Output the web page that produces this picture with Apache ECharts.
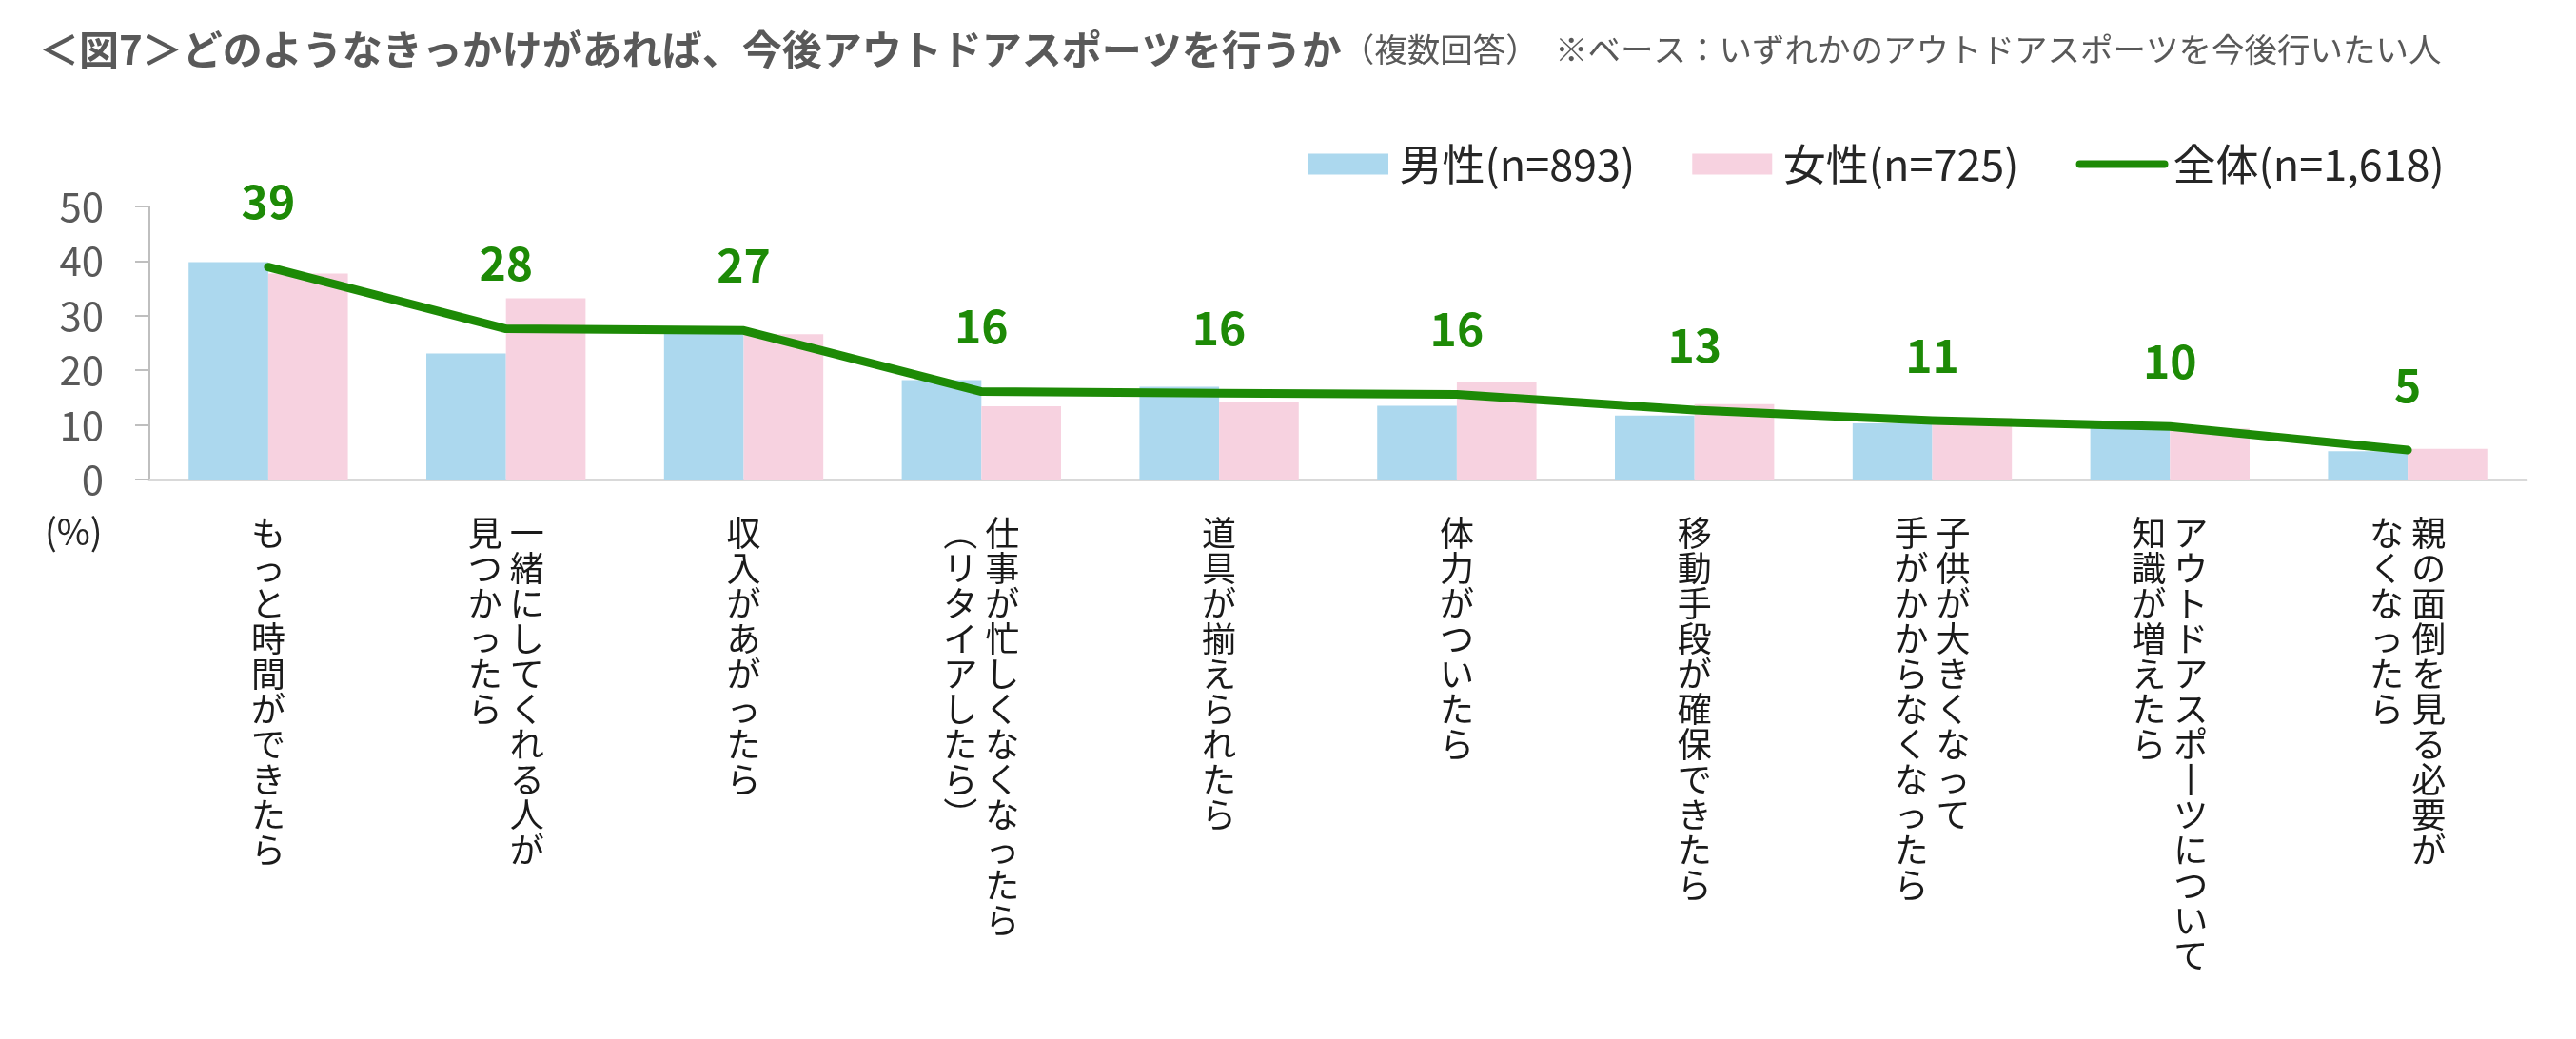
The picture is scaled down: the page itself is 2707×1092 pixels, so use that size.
<!DOCTYPE html>
<html><head><meta charset="utf-8">
<script src="https://cdn.jsdelivr.net/npm/echarts@6/dist/echarts.min.js"></script>
<style>html,body{margin:0;padding:0;background:#fff}#c{width:2707px;height:1092px}</style>
</head><body><div id="c"></div>
<script>
// Data (column breaks in labels marked with \n)
const categories = [
  'もっと時間ができたら',
  '一緒にしてくれる人が\n見つかったら',
  '収入があがったら',
  '仕事が忙しくなくなったら\n（リタイアしたら）',
  '道具が揃えられたら',
  '体力がついたら',
  '移動手段が確保できたら',
  '子供が大きくなって\n手がかからなくなったら',
  'アウトドアスポーツについて\n知識が増えたら',
  '親の面倒を見る必要が\nなくなったら'
];
const seriesNames = ['男性(n=893)', '女性(n=725)', '全体(n=1,618)'];
const male = [39.8, 23.1, 27.9, 18.2, 17.0, 13.5, 11.7, 10.3, 10.0, 5.2];
const female = [37.7, 33.2, 26.6, 13.4, 14.1, 17.9, 13.8, 11.3, 9.3, 5.6];
const total = [38.9, 27.6, 27.3, 16.1, 15.8, 15.6, 12.7, 10.8, 9.7, 5.4];

const FF = '"Noto Sans CJK JP", "Noto Sans", sans-serif';
const GREEN = '#1d8a06';
const vmap = {'ー': '丨', '（': '︵', '）': '︶', '、': '︑'};
function vertical(value) {
  const cols = value.split('\n').map(s => Array.from(s));
  const n = Math.max.apply(null, cols.map(c => c.length));
  const lines = [];
  for (let i = 0; i < n; i++) {
    const parts = [];
    for (let c = cols.length - 1; c >= 0; c--) {
      const ch = cols[c][i] || '　';
      parts.push(vmap[ch] || ch);
    }
    lines.push(parts.join(' '));
  }
  return lines.join('\n');
}

const chart = echarts.init(document.getElementById('c'));
chart.setOption({
  animation: false,
  backgroundColor: '#fff',
  title: {
    left: 36, top: 22,
    text: '{b|＜図7＞どのようなきっかけがあれば、今後アウトドアスポーツを行うか}{n|（複数回答）　※ベース：いずれかのアウトドアスポーツを今後行いたい人}',
    textStyle: {
      fontWeight: 'normal',
      rich: {
        b: {fontSize: 42, fontWeight: 'bold', color: '#595959', fontFamily: FF, lineHeight: 50},
        n: {fontSize: 34.5, fontWeight: 'normal', color: '#595959', fontFamily: FF, lineHeight: 50}
      }
    }
  },
  legend: {
    left: 1370, top: 145,
    itemWidth: 97, itemHeight: 22, itemGap: 60, symbolKeepAspect: true,
    textStyle: {fontSize: 45, color: '#262626', fontFamily: FF},
    data: [
      {name: seriesNames[0], icon: 'path://M0,0L84,0L84,22L0,22Z'},
      {name: seriesNames[1], icon: 'path://M0,0L84,0L84,22L0,22Z'},
      {name: seriesNames[2], icon: 'path://M4,0 L92,0 A4,4 0 0 1 92,8 L4,8 A4,4 0 0 1 4,0 Z'}
    ]
  },
  graphic: [{
    type: 'text', left: 47, top: 540,
    style: {text: '(%)', fontSize: 38, fill: '#262626', fontFamily: FF}
  }],
  grid: {left: 157, right: 52, top: 217, bottom: 588, containLabel: false},
  xAxis: {
    type: 'category',
    data: categories,
    axisTick: {show: false},
    axisLine: {lineStyle: {color: '#d9d9d9', width: 3}},
    axisLabel: {
      interval: 0, fontSize: 36, lineHeight: 37, color: '#1a1a1a', fontFamily: FF,
      margin: 38, formatter: vertical
    }
  },
  yAxis: {
    type: 'value', min: 0, max: 50, interval: 10,
    axisLine: {show: true, lineStyle: {color: '#bfbfbf', width: 2}},
    axisTick: {show: true, length: 15, lineStyle: {color: '#bfbfbf', width: 2}},
    splitLine: {show: false},
    axisLabel: {fontSize: 42, color: '#595959', fontFamily: FF, margin: 48}
  },
  series: [
    {name: seriesNames[0], type: 'bar', data: male, barGap: '0%', barCategoryGap: '33%',
     itemStyle: {color: '#acd8ee'}},
    {name: seriesNames[1], type: 'bar', data: female, barGap: '0%', barCategoryGap: '33%',
     itemStyle: {color: '#f7d2e0'}},
    {name: seriesNames[2], type: 'line', data: total,
     symbol: 'circle', symbolSize: 1, showSymbol: true,
     itemStyle: {color: GREEN},
     lineStyle: {color: GREEN, width: 9, cap: 'round', join: 'round'},
     label: {show: true, position: 'top', distance: 44, fontSize: 48, fontWeight: 'bold',
             color: GREEN, fontFamily: FF, formatter: p => Math.round(p.value)}}
  ]
});
</script></body></html>
